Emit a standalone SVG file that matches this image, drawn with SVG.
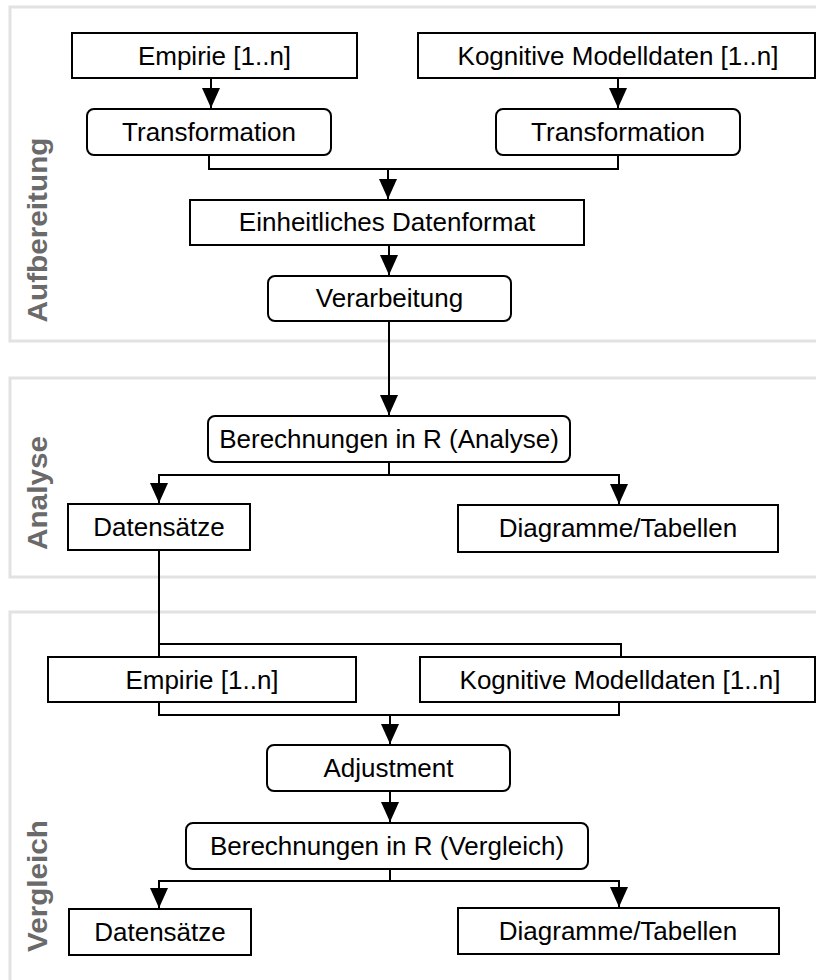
<svg xmlns="http://www.w3.org/2000/svg" width="816" height="980" viewBox="0 0 816 980">
<style>
.panel{fill:none;stroke:#e2e2e2;stroke-width:3}
.box{fill:#fff;stroke:#000;stroke-width:2}
.t{font-family:"Liberation Sans",Arial,sans-serif;font-size:26px;fill:#000;text-anchor:middle}
.side{font-family:"Liberation Sans",Arial,sans-serif;font-size:28px;font-weight:bold;fill:#6a6a6a;text-anchor:middle}
.c{fill:none;stroke:#000;stroke-width:2}
.a{marker-end:url(#ah)}
</style>
<defs>
<marker id="ah" viewBox="0 0 20 18" refX="20" refY="9" markerWidth="20" markerHeight="18" markerUnits="userSpaceOnUse" orient="auto">
<path d="M0,0 L20,9 L0,18 z" fill="#000"/>
</marker>
</defs>
<rect width="816" height="980" fill="#fff"/>
<g id="panels">
<rect class="panel" x="10" y="7" width="830" height="334"/>
<rect class="panel" x="10" y="378" width="830" height="199"/>
<rect class="panel" x="10" y="612" width="830" height="400"/>
<text class="side" transform="translate(47,230) rotate(-90)" textLength="185" lengthAdjust="spacingAndGlyphs">Aufbereitung</text>
<text class="side" transform="translate(47,493) rotate(-90)" textLength="114" lengthAdjust="spacingAndGlyphs">Analyse</text>
<text class="side" transform="translate(47,886) rotate(-90)" textLength="132" lengthAdjust="spacingAndGlyphs">Vergleich</text>
</g>
<g id="connectors">
<path class="c a" d="M211,78 V108"/>
<path class="c a" d="M618,78 V108"/>
<path class="c" d="M209,155 V169 H618 V155"/>
<path class="c a" d="M388,169 V199"/>
<path class="c a" d="M389,245 V275"/>
<path class="c a" d="M389,321 V415"/>
<path class="c" d="M389,462 V475"/>
<path class="c a" d="M389,475 H159 V503"/>
<path class="c a" d="M389,475 H619 V504"/>
<path class="c" d="M159,550 V657"/>
<path class="c" d="M159,644 H621 V657"/>
<path class="c" d="M159,702 V715 H619 V702"/>
<path class="c a" d="M390,715 V744"/>
<path class="c a" d="M390,791 V822"/>
<path class="c" d="M390,869 V881"/>
<path class="c a" d="M390,881 H159 V908"/>
<path class="c a" d="M390,881 H619 V907"/>
</g>
<g id="n-empirie1"><rect class="box" x="72" y="33" width="285" height="45"/><text class="t" x="214.5" y="65">Empirie [1..n]</text></g>
<g id="n-kognitiv1"><rect class="box" x="418" y="33" width="397" height="45"/><text class="t" x="618" y="65">Kognitive Modelldaten [1..n]</text></g>
<g id="n-trans1"><rect class="box" x="87" y="109" width="244" height="46" rx="7"/><text class="t" x="209" y="141">Transformation</text></g>
<g id="n-trans2"><rect class="box" x="496" y="109" width="244" height="46" rx="7"/><text class="t" x="618" y="141">Transformation</text></g>
<g id="n-format"><rect class="box" x="190" y="200" width="394" height="45"/><text class="t" x="387" y="231">Einheitliches Datenformat</text></g>
<g id="n-verarb"><rect class="box" x="268" y="276" width="243" height="45" rx="7"/><text class="t" x="389.5" y="307">Verarbeitung</text></g>
<g id="n-berA"><rect class="box" x="208" y="416" width="362" height="46" rx="7"/><text class="t" x="389" y="447.5">Berechnungen in R (Analyse)</text></g>
<g id="n-datenA"><rect class="box" x="68" y="504" width="182" height="46"/><text class="t" x="159" y="535.5">Datensätze</text></g>
<g id="n-diagA"><rect class="box" x="458" y="505" width="320" height="47"/><text class="t" x="618" y="537">Diagramme/Tabellen</text></g>
<g id="n-empirie2"><rect class="box" x="48" y="657" width="308" height="45"/><text class="t" x="202" y="688.5">Empirie [1..n]</text></g>
<g id="n-kognitiv2"><rect class="box" x="420" y="657" width="395" height="45"/><text class="t" x="620" y="688.5">Kognitive Modelldaten [1..n]</text></g>
<g id="n-adjust"><rect class="box" x="267" y="745" width="243" height="46" rx="7"/><text class="t" x="388.5" y="776.5">Adjustment</text></g>
<g id="n-berV"><rect class="box" x="186" y="823" width="402" height="46" rx="7"/><text class="t" x="387" y="854.5">Berechnungen in R (Vergleich)</text></g>
<g id="n-datenV"><rect class="box" x="69" y="909" width="182" height="46"/><text class="t" x="160" y="940.5">Datensätze</text></g>
<g id="n-diagV"><rect class="box" x="458" y="908" width="321" height="46"/><text class="t" x="618" y="939.5">Diagramme/Tabellen</text></g>
</svg>
